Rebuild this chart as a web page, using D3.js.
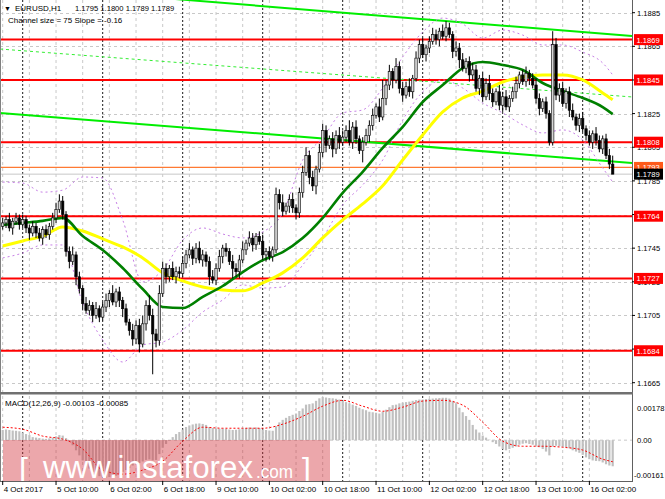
<!DOCTYPE html>
<html lang="en">
<head>
<meta charset="UTF-8">
<script src="https://d3js.org/d3.v7.min.js"></script>
<title>EURUSD H1</title>
<style>
  body { margin: 0; background: #fff; }
  text { font-family: "Liberation Sans", Arial, sans-serif; font-size: 8px; fill: #000; }
</style>
</head>
<body>
<svg id="chart" width="665" height="499"></svg>
<script>
// ---- data ----
const firstOpen = 1.1758;
const closes = [
  1.1760, 1.1762, 1.1757, 1.1761, 1.1763, 1.1759,
  1.1762, 1.1757, 1.1754, 1.1758,
  1.1754, 1.1751, 1.1756, 1.1753, 1.1758, 1.1763,
  1.1768, 1.1773, 1.1765,
  1.1743,
  1.1737, 1.1741, 1.1728, 1.1721, 1.1712,
  1.1708, 1.1711, 1.1705, 1.1709, 1.1704, 1.1710,
  1.1714, 1.1718, 1.1713, 1.1719, 1.1714,
  1.1709, 1.1701, 1.1696, 1.1691, 1.1699, 1.1688,
  1.1700, 1.1711, 1.1705, 1.1694, 1.1690, 1.1718,
  1.1733, 1.1728, 1.1733, 1.1728, 1.1731,
  1.1730, 1.1736, 1.1741,
  1.1744, 1.1739, 1.1745, 1.1738, 1.1741,
  1.1737, 1.1728, 1.1726,
  1.1733, 1.1740, 1.1745, 1.1743, 1.1737, 1.1733, 1.1731,
  1.1738, 1.1744, 1.1748, 1.1751, 1.1747, 1.1752, 1.1749,
  1.1741, 1.1743, 1.1740, 1.1744,
  1.1777,
  1.1772, 1.1767, 1.1770, 1.1774, 1.1769, 1.1766,
  1.1778, 1.1790, 1.1800, 1.1787, 1.1782, 1.1792, 1.1802,
  1.1815, 1.1806, 1.1810, 1.1804, 1.1812, 1.1808,
  1.1811, 1.1815, 1.1808, 1.1817, 1.1810, 1.1803, 1.1808,
  1.1812, 1.1818, 1.1824, 1.1829, 1.1823, 1.1834,
  1.1842, 1.1850, 1.1845, 1.1853, 1.1840,
  1.1836, 1.1841, 1.1838, 1.1846,
  1.1858, 1.1866, 1.1860, 1.1864,
  1.1868, 1.1872, 1.1869, 1.1874, 1.1871, 1.1876, 1.1872,
  1.1862, 1.1864, 1.1857,
  1.1852, 1.1856, 1.1848, 1.1851,
  1.1840, 1.1846, 1.1835, 1.1843, 1.1837,
  1.1832, 1.1838, 1.1830, 1.1835, 1.1829, 1.1834,
  1.1838, 1.1843, 1.1848, 1.1844, 1.1849, 1.1846, 1.1842,
  1.1834, 1.1828, 1.1832, 1.1825,
  1.1808,
  1.1866,
  1.1836,
  1.1840, 1.1831, 1.1838, 1.1827,
  1.1823, 1.1818, 1.1822, 1.1816,
  1.1812, 1.1808, 1.1813, 1.1809,
  1.1804, 1.1810, 1.1800, 1.1795,
  1.1789
];
// wick lengths in pips above / below the body
const wickUp = [
  3,2,4,2,3,2,3,2,2,3, 2,3,2,3,2,3,4,4,3,2, 3,5,2,3,2,4,3,2,4,2, 3,4,2,5,2,3,2,3,2,4,
  3,4,5,3,6,4,3,5,4,3, 2,4,3,3,4,3,4,2,3,4, 3,2,3,4,3,4,2,3,2,4, 3,3,5,2,4,3,2,3,4,2,
  3,2,4,3,5,2,3,4,2,3, 4,5,3,4,2,5,4,3,2,4, 3,5,4,3,6,3,4,2,3,4, 3,4,2,5,11,3,4,2,5,3,
  4,3,5,2,4,3,4,2,3,4, 3,2,4,4,3,2,4,3,4,2, 3,4,3,2,4,3,5,3,2,4, 3,4,2,3,4,2,3,4,2,3,
  4,3,2,3,2,8,4,3,4,2, 3,4,2,3,4,2,3,2,4,3, 2,3,4,5
];
const wickDn = [
  2,3,2,4,2,3,2,3,4,2, 3,2,4,2,3,2,3,2,3,3, 4,2,5,3,4,2,3,4,2,3, 2,3,4,2,3,4,5,2,3,4,
  3,5,2,4,3,24,4,3,2,4, 3,2,4,3,2,3,2,4,3,2, 4,3,5,2,3,2,4,3,2,6, 3,4,2,3,2,4,3,2,3,4,
  2,3,2,4,3,2,4,3,4,3, 3,2,4,3,5,2,3,4,2,5, 3,4,2,3,2,4,3,2,7,2, 4,3,2,3,2,4,3,5,2,3,
  4,2,3,4,2,3,2,4,3,2, 3,4,2,3,2,4,3,5,2,3, 4,3,2,4,3,2,4,3,2,3, 4,2,3,2,4,3,2,3,4,2,
  3,4,2,3,2,2,3,4,2,3, 4,2,3,4,2,3,2,4,3,2, 3,2,3,0
];
const macdMain = [
  0.00040, 0.00042, 0.00040, 0.00038, 0.00037, 0.00035,
  0.00030, 0.00024, 0.00020,
  0.00012, 0.00010, 0.00008, 0.00006, 0.00005, 0.00007,
  0.00010, 0.00015, 0.00020, 0.00018,
  0.00008,
  -0.00005,
  -0.00020, -0.00040, -0.00060,
  -0.00080, -0.00098, -0.00112, -0.00125,
  -0.00135, -0.00142, -0.00146, -0.00148, -0.00145,
  -0.00143, -0.00140, -0.00132, -0.00125,
  -0.00118, -0.00110, -0.00100, -0.00092,
  -0.00090, -0.00084, -0.00078, -0.00076,
  -0.00080, -0.00078, -0.00055,
  -0.00030, -0.00015, -0.00002,
  0.00012, 0.00024, 0.00032,
  0.00042, 0.00052, 0.00058, 0.00062,
  0.00065, 0.00066, 0.00064, 0.00060, 0.00052,
  0.00048, 0.00046, 0.00045, 0.00046,
  0.00044, 0.00042, 0.00040, 0.00041, 0.00043,
  0.00046, 0.00048, 0.00050, 0.00049, 0.00050,
  0.00048, 0.00042, 0.00040, 0.00038, 0.00037,
  0.00055, 0.00070, 0.00080, 0.00088,
  0.00095, 0.00100, 0.00105, 0.00115,
  0.00125, 0.00140, 0.00142, 0.00145, 0.00155,
  0.00165, 0.00170, 0.00168, 0.00166, 0.00165,
  0.00163, 0.00160, 0.00155, 0.00150,
  0.00145, 0.00140, 0.00135, 0.00128, 0.00122,
  0.00118, 0.00112, 0.00110, 0.00108, 0.00105,
  0.00112, 0.00120, 0.00130, 0.00138,
  0.00140, 0.00145, 0.00148, 0.00150, 0.00152,
  0.00155, 0.00158, 0.00160, 0.00160, 0.00162,
  0.00163, 0.00164, 0.00165, 0.00166, 0.00167, 0.00167,
  0.00164, 0.00155, 0.00145,
  0.00128, 0.00110, 0.00095, 0.00080,
  0.00060, 0.00042, 0.00030, 0.00018,
  0.00010, 0.00002, -0.00008, -0.00015,
  -0.00025, -0.00035, -0.00040, -0.00035, -0.00030,
  -0.00025, -0.00018, -0.00014, -0.00012, -0.00015,
  -0.00018, -0.00022, -0.00028, -0.00035, -0.00045,
  -0.00060,
  -0.00025, -0.00022, -0.00024,
  -0.00026, -0.00028, -0.00032, -0.00040,
  -0.00045, -0.00050, -0.00058, -0.00068,
  -0.00075, -0.00080, -0.00082, -0.00083,
  -0.00088, -0.00095, -0.00100, -0.00103
];

// indicator lines, sampled every 6 bars
const sampleBars = [0,6,12,18,24,30,36,42,48,54,60,66,72,78,84,90,96,102,108,114,120,126,132,138,144,150,156,162,168,174,180,183];
const maGreen = [1.17588,1.17600,1.17612,1.17630,1.17522,1.17439,1.17332,1.17207,1.17100,1.17094,1.17160,1.17225,1.17308,1.17379,1.17427,1.17510,
  1.17630,1.17779,1.17904,1.18046,1.18171,1.18319,1.18420,1.18521,1.18557,1.18539,1.18509,1.18432,1.18384,1.18343,1.18289,1.18247];
const maYellow = [1.17463,1.17493,1.17522,1.17576,1.17552,1.17505,1.17457,1.17392,1.17303,1.17255,1.17219,1.17201,1.17196,1.17243,1.17303,1.17392,
  1.17511,1.17618,1.17713,1.17821,1.17974,1.18123,1.18260,1.18343,1.18384,1.18438,1.18468,1.18480,1.18480,1.18450,1.18373,1.18332];
const bandUpper = [1.17843,1.17837,1.17783,1.17795,1.17873,1.17867,1.17618,1.17249,1.17320,1.17498,1.17570,1.17534,1.17511,1.17546,1.17659,1.17974,
  1.18105,1.18254,1.18272,1.18402,1.18587,1.18735,1.18818,1.18783,1.18699,1.18747,1.18717,1.18658,1.18658,1.18616,1.18551,1.18480];
const bandLower = [1.17392,1.17421,1.17469,1.17469,1.17124,1.16904,1.16773,1.16874,1.16892,1.16963,1.17070,1.17142,1.17231,1.17213,1.17219,1.17350,
  1.17511,1.17707,1.17826,1.17974,1.18212,1.18379,1.18450,1.18402,1.18313,1.18254,1.18183,1.18135,1.18153,1.18093,1.17927,1.17843];
const macdSignal = [0.00051,0.00043,0.00016,0.00004,-0.00035,-0.00118,-0.00134,-0.00118,-0.00083,-0.00004,0.00051,0.00047,0.00047,0.00047,0.00063,0.00094,
  0.00134,0.00157,0.00134,0.00114,0.00130,0.00154,0.00157,0.00138,0.00071,-0.00004,-0.00024,-0.00024,-0.00028,-0.00039,-0.00075,-0.00085];

// regression channel (Channel size = 75, Slope = -0.16), ends at chart edges
const channelBars = [-0.8, 188.8];
const channelTop = [1.19016, 1.18711];
const channelMid = [1.18634, 1.18349];
const channelBot = [1.18254, 1.17956];

const levels = [1.1869, 1.1845, 1.1808, 1.1764, 1.1727, 1.1684];
const askLevel = 1.1793;
const bidLevel = 1.1789;
// 1.1845, 1.1765 and 1.1685 sit under the level tags and do not show
const priceTicks = [1.1885, 1.1865, 1.1845, 1.1825, 1.1805, 1.1785, 1.1765, 1.1745, 1.1725, 1.1705, 1.1685, 1.1665];
const hiddenTicks = [1.1845, 1.1765, 1.1685];
const timeLabels = ["4 Oct 2017", "5 Oct 10:00", "6 Oct 02:00", "6 Oct 18:00", "9 Oct 10:00", "10 Oct 02:00",
  "10 Oct 18:00", "11 Oct 10:00", "12 Oct 02:00", "12 Oct 18:00", "13 Oct 10:00", "16 Oct 02:00"];
const daySeparatorBars = [6, 30, 54, 78, 102, 126, 150, 174];
const macdTicks = [0.00178, 0.00, -0.00161];

// ---- layout ----
const plotRight = 632;
const mainTop = 0, mainBottom = 392;
const macdTop = 395, macdBottom = 481;

const svg = d3.select("#chart");

const x = d3.scaleLinear().domain([0, 183]).range([2.7, 612.7]);
const y = d3.scaleLinear().domain([1.1665, 1.1885]).range([382.7, 12.7]);
const ym = d3.scaleLinear().domain([-0.00161, 0.00178]).range([macdBottom, macdTop]);

const defs = svg.append("defs");
defs.append("clipPath").attr("id", "mainClip")
  .append("rect").attr("x", 0).attr("y", mainTop).attr("width", plotRight).attr("height", mainBottom - mainTop);
defs.append("clipPath").attr("id", "macdClip")
  .append("rect").attr("x", 0).attr("y", macdTop).attr("width", plotRight).attr("height", macdBottom - macdTop);

// candles (open = previous close)
let prev = firstOpen;
const candles = closes.map((c, i) => {
  const o = prev; prev = c;
  return { i, o, c, h: Math.max(o, c) + wickUp[i] / 10000, l: Math.min(o, c) - wickDn[i] / 10000 };
});

// grid
const grid = svg.append("g");
grid.selectAll(".vg").data(d3.range(0, 184, 8)).enter().append("line")
  .attr("x1", d => x(d)).attr("x2", d => x(d)).attr("y1", 0).attr("y2", macdBottom)
  .attr("stroke", "#c8c8c8").attr("stroke-dasharray", "3,3");
grid.selectAll(".hg").data(priceTicks).enter().append("line")
  .attr("x1", 0).attr("x2", plotRight).attr("y1", d => Math.round(y(d)) + 0.5).attr("y2", d => Math.round(y(d)) + 0.5)
  .attr("stroke", "#c8c8c8").attr("stroke-dasharray", "3,3");
grid.append("line").attr("x1", 0).attr("x2", plotRight).attr("y1", ym(0)).attr("y2", ym(0))
  .attr("stroke", "#c8c8c8").attr("stroke-dasharray", "3,3");
grid.selectAll(".ds").data(daySeparatorBars).enter().append("line")
  .attr("x1", d => x(d)).attr("x2", d => x(d)).attr("y1", 0).attr("y2", macdBottom)
  .attr("stroke", "#000").attr("stroke-dasharray", "2,2").attr("stroke-width", 0.9);

const main = svg.append("g").attr("clip-path", "url(#mainClip)");

// horizontal levels
main.selectAll(".lvl").data(levels).enter().append("line")
  .attr("x1", 0).attr("x2", plotRight).attr("y1", d => y(d)).attr("y2", d => y(d))
  .attr("stroke", "#ff0000").attr("stroke-width", 2);
main.append("line").attr("x1", 0).attr("x2", plotRight).attr("y1", y(askLevel)).attr("y2", y(askLevel))
  .attr("stroke", "#ff7a33").attr("stroke-width", 1.2);
main.append("line").attr("x1", 0).attr("x2", plotRight).attr("y1", y(bidLevel)).attr("y2", y(bidLevel))
  .attr("stroke", "#c8c8c8").attr("stroke-width", 1);

// channel
const chLine = (vals) => d3.line()(channelBars.map((b, k) => [x(b), y(vals[k])]));
main.append("path").attr("d", chLine(channelTop)).attr("stroke", "#00ee00").attr("stroke-width", 2).attr("fill", "none");
main.append("path").attr("d", chLine(channelBot)).attr("stroke", "#00ee00").attr("stroke-width", 2).attr("fill", "none");
main.append("path").attr("d", chLine(channelMid)).attr("stroke", "#33ee33").attr("stroke-width", 1).attr("stroke-dasharray", "3,3").attr("fill", "none");

// indicator curves
const curve = (vals, ys) => d3.line().curve(d3.curveMonotoneX)(sampleBars.map((b, k) => [x(b), ys(vals[k])]));
main.append("path").attr("d", curve(bandUpper, y)).attr("stroke", "#c77fe6").attr("stroke-width", 1).attr("stroke-dasharray", "2,3").attr("fill", "none");
main.append("path").attr("d", curve(bandLower, y)).attr("stroke", "#c77fe6").attr("stroke-width", 1).attr("stroke-dasharray", "2,3").attr("fill", "none");
main.append("path").attr("d", curve(maYellow, y)).attr("stroke", "#ffff00").attr("stroke-width", 3).attr("fill", "none");
main.append("path").attr("d", curve(maGreen, y)).attr("stroke", "#008000").attr("stroke-width", 2.6).attr("fill", "none");

// candle wicks and bodies
const cg = main.append("g");
cg.selectAll(".wick").data(candles).enter().append("line")
  .attr("x1", d => x(d.i)).attr("x2", d => x(d.i)).attr("y1", d => y(d.h)).attr("y2", d => y(d.l))
  .attr("stroke", "#000").attr("stroke-width", 1);
cg.selectAll(".body").data(candles).enter().append("rect")
  .attr("x", d => x(d.i) - 1.2).attr("width", 2.4)
  .attr("y", d => y(Math.max(d.o, d.c)))
  .attr("height", d => Math.max(0.8, Math.abs(y(d.o) - y(d.c))))
  .attr("fill", d => d.c >= d.o ? "#d8d8d8" : "#000")
  .attr("stroke", "#000").attr("stroke-width", 0.6);

// MACD
const mg = svg.append("g").attr("clip-path", "url(#macdClip)");
mg.selectAll(".hist").data(macdMain).enter().append("rect")
  .attr("x", (d, i) => x(i) - 1.1).attr("width", 2.2)
  .attr("y", d => Math.min(ym(d), ym(0))).attr("height", d => Math.abs(ym(d) - ym(0)))
  .attr("fill", "#c0c0c0");
mg.append("path").attr("d", curve(macdSignal, ym)).attr("stroke", "#ff0000").attr("stroke-width", 1)
  .attr("stroke-dasharray", "2,2").attr("fill", "none");

// watermark
const wm = svg.append("g").style("font-family", "'Open Sans', sans-serif").style("font-weight", 300);
wm.append("rect").attr("x", 3).attr("y", 440).attr("width", 327).attr("height", 41)
  .attr("fill", "#d22d37").attr("fill-opacity", 0.42);
wm.append("text").attr("x", 19).attr("y", 480).style("font-size", "32px").style("fill", "#fff").text("[");
wm.append("text").attr("x", 43).attr("y", 478).attr("textLength", 210).attr("lengthAdjust", "spacingAndGlyphs")
  .style("font-size", "31px").style("fill", "#fff").text("www.instaforex");
wm.append("text").attr("x", 256).attr("y", 478).attr("textLength", 37).attr("lengthAdjust", "spacingAndGlyphs")
  .style("font-size", "19px").style("fill", "#fff").text(".com");
wm.append("text").attr("x", 302).attr("y", 480).style("font-size", "32px").style("fill", "#fff").text("]");

// frames
svg.append("line").attr("x1", 0.5).attr("x2", 0.5).attr("y1", 0).attr("y2", macdBottom).attr("stroke", "#808080");
svg.append("line").attr("x1", plotRight + 0.5).attr("x2", plotRight + 0.5).attr("y1", 0).attr("y2", macdBottom).attr("stroke", "#606060");
svg.append("rect").attr("x", 0).attr("y", mainBottom).attr("width", plotRight + 1).attr("height", 2.5).attr("fill", "#707070");
svg.append("line").attr("x1", 0).attr("x2", plotRight + 1).attr("y1", macdBottom + 0.5).attr("y2", macdBottom + 0.5).attr("stroke", "#606060");

// right price axis
const ax = svg.append("g");
ax.selectAll(".pt").data(priceTicks).enter().append("line")
  .attr("x1", plotRight).attr("x2", plotRight + 3).attr("y1", d => y(d)).attr("y2", d => y(d)).attr("stroke", "#000");
ax.selectAll(".pl").data(priceTicks.filter(d => !hiddenTicks.includes(d))).enter().append("text")
  .attr("x", 637).attr("y", d => y(d) + 3).style("font-size", "7.6px").text(d => d.toFixed(4));
ax.selectAll(".mt").data(macdTicks).enter().append("text")
  .attr("x", (d, k) => k === 2 ? 634 : 637).attr("y", (d, k) => [411, 443, 478][k])
  .style("font-size", "7.6px").text(d => d === 0 ? "0.00" : d.toFixed(5));

// level tags
const tag = (v, bg, fg) => {
  const g = ax.append("g");
  g.append("rect").attr("x", 634).attr("y", y(v) - 5.5).attr("width", 29).attr("height", 11).attr("fill", bg);
  g.append("text").attr("x", 636.5).attr("y", y(v) + 3).style("font-size", "7.6px").style("fill", fg).text(v.toFixed(4));
};
levels.forEach(v => tag(v, "#ff0000", "#fff"));
tag(askLevel, "#ff5a1a", "#fff");
tag(bidLevel, "#000", "#fff");

// time axis
const tx = svg.append("g");
tx.selectAll(".tt").data(timeLabels).enter().append("line")
  .attr("x1", (d, k) => x(k * 16)).attr("x2", (d, k) => x(k * 16)).attr("y1", macdBottom).attr("y2", macdBottom + 4).attr("stroke", "#000");
tx.selectAll(".tl").data(timeLabels).enter().append("text")
  .attr("x", (d, k) => x(k * 16) + 1).attr("y", 492).text(d => d);

// header texts
svg.append("text").attr("x", 4).attr("y", 11).style("font-size", "7px").text("▼");
svg.append("text").attr("x", 15).attr("y", 11).text("EURUSD,H1");
svg.append("text").attr("x", 75).attr("y", 11).style("font-size", "7.6px").text("1.1795 1.1800 1.1789 1.1789");
svg.append("text").attr("x", 8).attr("y", 23).text("Channel size = 75 Slope = -0.16");
svg.append("text").attr("x", 5).attr("y", 406).text("MACD(12,26,9) -0.00103 -0.00085");
</script>
</body>
</html>
